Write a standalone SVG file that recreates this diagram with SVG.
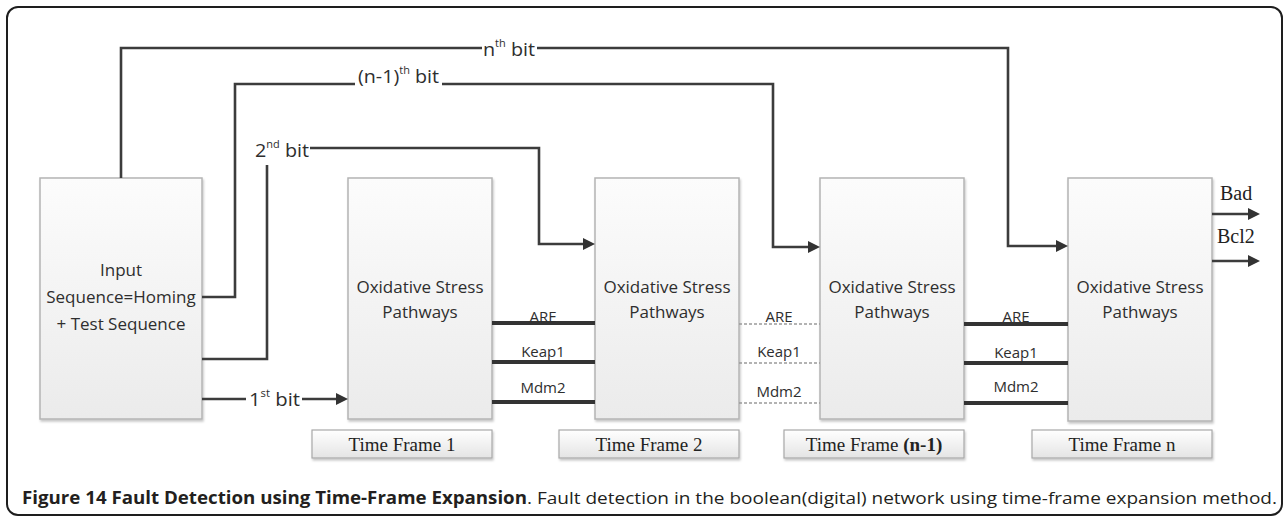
<svg xmlns="http://www.w3.org/2000/svg" width="1287" height="518" viewBox="0 0 1287 518">
<style>
.frame{fill:#fff;stroke:#1e1e1e;stroke-width:2}
.node{fill:url(#g1);stroke:#b4b4b4;stroke-width:1.5;filter:url(#sh)}
.tf{fill:url(#g2);stroke:#a8a8a8;stroke-width:1.2;filter:url(#sh)}
.sans{font-family:"Open Sans","Liberation Sans",sans-serif;fill:#2e2e2e}
.serif{font-family:"Liberation Serif","Times New Roman",serif;fill:#222}
.conn{fill:none;stroke:#3c3c3c;stroke-width:2.6}
.bus{fill:none;stroke:#333;stroke-width:4}
.dash{fill:none;stroke:#9a9a9a;stroke-width:1.5;stroke-dasharray:3 2}
.cap{font-family:"Open Sans","Liberation Sans",sans-serif;font-size:17px;fill:#231f20}
</style>
<defs>
<linearGradient id="g1" x1="0" y1="0" x2="0" y2="1"><stop offset="0" stop-color="#fcfcfc"/><stop offset="1" stop-color="#ebebeb"/></linearGradient>
<linearGradient id="g2" x1="0" y1="0" x2="0" y2="1"><stop offset="0" stop-color="#ffffff"/><stop offset="1" stop-color="#e4e4e4"/></linearGradient>
<filter id="sh" x="-10%" y="-10%" width="120%" height="130%"><feDropShadow dx="1" dy="2" stdDeviation="1.2" flood-color="#000" flood-opacity="0.22"/></filter>
<marker id="arr" markerUnits="userSpaceOnUse" markerWidth="12" markerHeight="12" refX="6" refY="6" orient="auto"><path d="M0,0 L12,6 L0,12 z" fill="#333"/></marker>
</defs>
<rect class="frame" x="7" y="7" width="1275" height="508" rx="11"/>

<g id="input-node">
<rect class="node" x="40" y="178" width="162" height="241"/>
<text class="sans" font-size="17" text-anchor="middle"><tspan x="121" y="276">Input</tspan><tspan x="121" y="303">Sequence=Homing</tspan><tspan x="121" y="330">+ Test Sequence</tspan></text>
</g>

<g id="tf1">
<rect class="node" x="348" y="178" width="144" height="241"/>
<text class="sans" font-size="17" text-anchor="middle"><tspan x="420" y="293">Oxidative Stress</tspan><tspan x="420" y="318">Pathways</tspan></text>
<rect class="tf" x="312" y="430" width="180" height="28"/>
<text class="serif" font-size="19" x="402" y="451" text-anchor="middle">Time Frame 1</text>
</g>

<g id="tf2">
<rect class="node" x="595" y="178" width="144" height="241"/>
<text class="sans" font-size="17" text-anchor="middle"><tspan x="667" y="293">Oxidative Stress</tspan><tspan x="667" y="318">Pathways</tspan></text>
<rect class="tf" x="559" y="430" width="180" height="28"/>
<text class="serif" font-size="19" x="649" y="451" text-anchor="middle">Time Frame 2</text>
</g>

<g id="tf-n-1">
<rect class="node" x="820" y="178" width="144" height="241"/>
<text class="sans" font-size="17" text-anchor="middle"><tspan x="892" y="293">Oxidative Stress</tspan><tspan x="892" y="318">Pathways</tspan></text>
<rect class="tf" x="784" y="430" width="180" height="28"/>
<text class="serif" font-size="19" x="874" y="451" text-anchor="middle">Time Frame <tspan font-weight="bold">(n-1)</tspan></text>
</g>

<g id="tf-n">
<rect class="node" x="1068" y="178" width="144" height="243"/>
<text class="sans" font-size="17" text-anchor="middle"><tspan x="1140" y="293">Oxidative Stress</tspan><tspan x="1140" y="318">Pathways</tspan></text>
<rect class="tf" x="1032" y="430" width="180" height="28"/>
<text class="serif" font-size="19" x="1122" y="451" text-anchor="middle">Time Frame n</text>
</g>

<g id="connectors">
<path class="conn" d="M121,178 V48 H482 M537,48 H1008 V246 H1062" marker-end="url(#arr)"/>
<path class="conn" d="M202,297 H235 V84 H355 M442,84 H773 V247 H814" marker-end="url(#arr)"/>
<path class="conn" d="M202,359 H267 V165 M310,148 H539 V244 H589" marker-end="url(#arr)"/>
<path class="conn" d="M202,399 H246 M302,399 H342" marker-end="url(#arr)"/>
<path class="conn" d="M1212,214 H1254" marker-end="url(#arr)"/>
<path class="conn" d="M1212,261 H1254" marker-end="url(#arr)"/>
<path class="bus" d="M492,323 H595 M492,362 H595 M492,402 H595"/>
<path class="dash" d="M739,324 H820 M739,363 H820 M739,403 H820"/>
<path class="bus" d="M964,324 H1068 M964,363 H1068 M964,403 H1068"/>
</g>

<g id="labels">
<text class="sans" font-size="18" x="483" y="56" textLength="52" lengthAdjust="spacingAndGlyphs">n<tspan font-size="10" dy="-9">th</tspan><tspan dy="9"> bit</tspan></text>
<text class="sans" font-size="18" x="358" y="83" textLength="81" lengthAdjust="spacingAndGlyphs">(n-1)<tspan font-size="10" dy="-9">th</tspan><tspan dy="9"> bit</tspan></text>
<text class="sans" font-size="18" x="255" y="157" textLength="54" lengthAdjust="spacingAndGlyphs">2<tspan font-size="10" dy="-9">nd</tspan><tspan dy="9"> bit</tspan></text>
<text class="sans" font-size="18" x="249" y="406" textLength="51" lengthAdjust="spacingAndGlyphs">1<tspan font-size="10" dy="-9">st</tspan><tspan dy="9"> bit</tspan></text>
<g class="sans" font-size="15" text-anchor="middle">
<text x="543" y="322">ARE</text><text x="543" y="357">Keap1</text><text x="543" y="393">Mdm2</text>
<text x="779" y="322">ARE</text><text x="779" y="357">Keap1</text><text x="779" y="397">Mdm2</text>
<text x="1016" y="322">ARE</text><text x="1016" y="358">Keap1</text><text x="1016" y="392">Mdm2</text>
</g>
<text class="serif" font-size="20" x="1220" y="200">Bad</text>
<text class="serif" font-size="20" x="1217" y="243">Bcl2</text>
</g>

<g id="caption">
<text class="cap" x="22" y="504" font-weight="bold" textLength="505" lengthAdjust="spacingAndGlyphs">Figure 14 Fault Detection using Time-Frame Expansion</text>
<text class="cap" x="527" y="504" textLength="750" lengthAdjust="spacingAndGlyphs">. Fault detection in the boolean(digital) network using time-frame expansion method.</text>
</g>
</svg>
